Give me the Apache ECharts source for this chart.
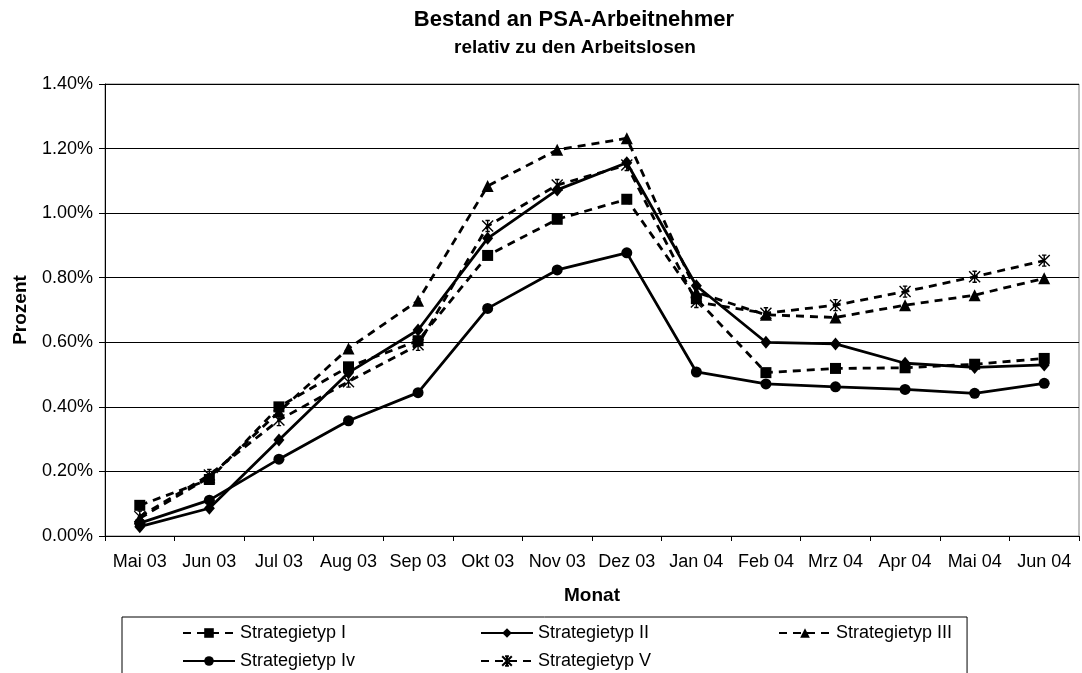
<!DOCTYPE html>
<html>
<head>
<meta charset="utf-8">
<script src="https://cdn.jsdelivr.net/npm/echarts@6/dist/echarts.min.js"></script>
<style>
  html, body { margin: 0; padding: 0; background: #fff; }
  #chart { width: 1082px; height: 673px; }
</style>
</head>
<body>
<div id="chart"></div>
<script>
// months on the x axis
const months = ['Mai 03', 'Jun 03', 'Jul 03', 'Aug 03', 'Sep 03', 'Okt 03', 'Nov 03',
  'Dez 03', 'Jan 04', 'Feb 04', 'Mrz 04', 'Apr 04', 'Mai 04', 'Jun 04'];

// values in percent
const typI   = [0.095, 0.175, 0.400, 0.524, 0.605, 0.869, 0.981, 1.043, 0.735, 0.506, 0.519, 0.521, 0.532, 0.550];
const typII  = [0.029, 0.086, 0.297, 0.506, 0.638, 0.922, 1.072, 1.156, 0.775, 0.600, 0.595, 0.535, 0.522, 0.530];
const typIII = [0.055, 0.182, 0.385, 0.581, 0.729, 1.084, 1.196, 1.232, 0.755, 0.685, 0.677, 0.715, 0.746, 0.798];
const typIv  = [0.040, 0.111, 0.238, 0.357, 0.444, 0.705, 0.824, 0.877, 0.508, 0.471, 0.462, 0.454, 0.442, 0.473];
const typV   = [0.060, 0.189, 0.359, 0.478, 0.592, 0.960, 1.087, 1.149, 0.725, 0.690, 0.715, 0.757, 0.803, 0.853];

const FONT = "'Liberation Sans', Arial, sans-serif";
// asterisk marker with caps, like the Excel star
const STAR = 'path://M0,0L10,10M10,0L0,10M5,0L5,10M3,0L7,0M3,10L7,10';

const chart = echarts.init(document.getElementById('chart'));

function makeSeries(name, data, symbol, size, dashed) {
  return {
    name: name,
    type: 'line',
    data: data,
    symbol: symbol,
    symbolSize: size,
    showAllSymbol: true,
    lineStyle: { color: '#000', width: 2.8, type: dashed ? [8, 6] : 'solid' },
    itemStyle: symbol === STAR
      ? { color: '#000', borderColor: '#000', borderWidth: 1.4 }
      : { color: '#000', borderWidth: 0 },
    emphasis: { disabled: true }
  };
}

const option = {
  animation: false,
  textStyle: { fontFamily: FONT },
  title: [
    {
      text: 'Bestand an PSA-Arbeitnehmer',
      left: 574, top: 9, textAlign: 'center', padding: 0,
      textStyle: { fontFamily: FONT, fontSize: 22, fontWeight: 'bold', color: '#000' }
    },
    {
      text: 'relativ zu den Arbeitslosen',
      left: 575, top: 38, textAlign: 'center', padding: 0,
      textStyle: { fontFamily: FONT, fontSize: 19, fontWeight: 'bold', color: '#000' }
    }
  ],
  grid: {
    left: 105, right: 3, top: 84, bottom: 137,
    show: true, borderColor: '#808080', borderWidth: 1
  },
  xAxis: {
    type: 'category',
    data: months,
    boundaryGap: true,
    name: 'Monat',
    nameLocation: 'middle',
    nameGap: 50,
    nameTextStyle: { fontFamily: FONT, fontSize: 19, fontWeight: 'bold', color: '#000' },
    axisLine: { lineStyle: { color: '#000', width: 1 } },
    axisTick: { show: true, length: 5, lineStyle: { color: '#000' } },
    axisLabel: { fontFamily: FONT, fontSize: 18, color: '#000', margin: 17, interval: 0 },
    splitLine: { show: false }
  },
  yAxis: {
    type: 'value',
    min: 0, max: 1.4, interval: 0.2,
    name: 'Prozent',
    nameLocation: 'middle',
    nameGap: 75,
    nameTextStyle: { fontFamily: FONT, fontSize: 19, fontWeight: 'bold', color: '#000' },
    axisLine: { show: true, lineStyle: { color: '#000', width: 1 } },
    axisTick: { show: true, length: 6, lineStyle: { color: '#000' } },
    axisLabel: {
      fontFamily: FONT, fontSize: 18, color: '#000', margin: 12,
      formatter: v => v.toFixed(2) + '%'
    },
    splitLine: { show: true, lineStyle: { color: '#000', width: 1 } }
  },
  legend: {
    left: 122, top: 617, width: 900,
    padding: [7, 15, 40, 60],
    borderColor: '#000', borderWidth: 1,
    itemWidth: 52, itemHeight: 12, itemGap: 10,
    textStyle: { fontFamily: FONT, fontSize: 18, color: '#000', lineHeight: 18 },
    data: [
      { name: 'Strategietyp I', textStyle: { width: 230 } },
      { name: 'Strategietyp II', textStyle: { width: 230 } },
      { name: 'Strategietyp III' },
      { name: 'Strategietyp Iv', textStyle: { width: 230 } },
      { name: 'Strategietyp V' }
    ]
  },
  series: [
    makeSeries('Strategietyp I', typI, 'rect', 11, true),
    makeSeries('Strategietyp II', typII, 'diamond', [11, 13], false),
    makeSeries('Strategietyp III', typIII, 'triangle', 12, true),
    makeSeries('Strategietyp Iv', typIv, 'circle', 11, false),
    makeSeries('Strategietyp V', typV, STAR, 11, true)
  ]
};

chart.setOption(option);
</script>
</body>
</html>
